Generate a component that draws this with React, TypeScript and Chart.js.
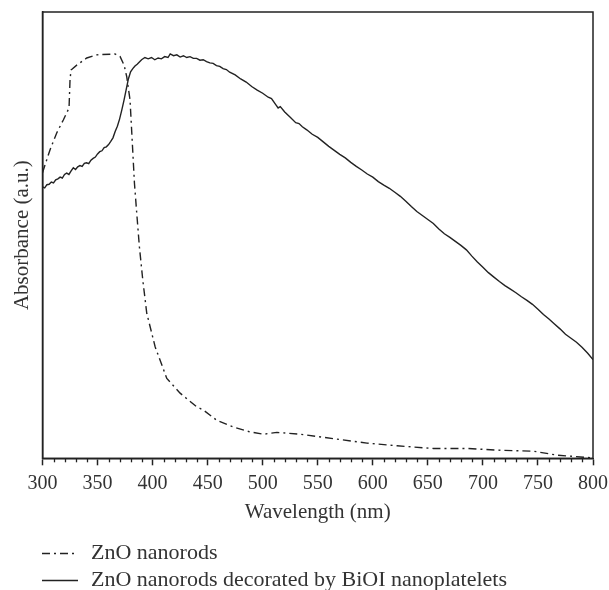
import React, { useEffect, useRef } from "react";
import { Chart, registerables } from "chart.js";

Chart.register(...registerables);

const FONT = "'Liberation Serif', 'Times New Roman', serif";
const TEXT = "#333333";
const INK = "#222222";

const xTitle = "Wavelength (nm)";
const yTitle = "Absorbance (a.u.)";
const seriesLabels = ["ZnO nanorods", "ZnO nanorods decorated by BiOI nanoplatelets"];
const xMin = 300;
const xMax = 800;
const xMajorStep = 50;
const xMinorStep = 10;

const znoWavelength = [
  300, 306.8, 312.9, 318.9, 324.1, 325, 325.9, 331.1, 340.2, 349.3, 365.9, 370.5, 374.1, 376.5,
  379.5, 381.1, 383.5, 385.6, 388, 391.1, 394.7, 402.3, 412.9, 425, 440.2, 446.2, 458.4, 473.5,
  488.6, 500.7, 512.9, 534.1, 564.4, 594.7, 622, 655, 685.6, 715.9, 745.9, 767.5, 800,
];
const znoAbsorbance = [
  64.0, 69.1, 72.9, 75.8, 78.5, 84.8, 87.0, 88.1, 89.7, 90.4, 90.6, 90.0, 88.1, 85.5,
  80.3, 72.9, 61.7, 54.9, 47.4, 39.9, 32.5, 25.0, 17.9, 14.6, 11.5, 10.8, 8.5, 7.0,
  5.9, 5.4, 5.8, 5.4, 4.4, 3.4, 2.8, 2.2, 2.2, 1.8, 1.6, 0.7, 0.1,
];

const bioiWavelength = [
  300, 302, 304, 306, 308, 310, 312, 314, 316, 318, 320, 322, 324, 326, 328, 330, 332, 334, 336, 338,
  340, 342, 344, 346, 348, 350, 352, 354, 356, 358, 360, 362, 364, 366, 368, 370, 372, 374, 376, 378,
  380, 382, 384, 386, 388, 390, 393, 396, 399, 402, 405, 408, 411, 414, 416, 419, 422, 425, 428, 431,
  434, 437, 440, 443, 446, 449, 452, 455, 458, 461, 464, 467, 470, 475, 480, 485, 490, 495, 500, 505,
  508, 512, 514, 516, 520, 525, 530, 533, 536, 540, 545, 550, 555, 560, 565, 570, 575, 580, 585, 590,
  595, 600, 605, 610, 615, 620, 625, 630, 635, 640, 645, 650, 655, 660, 665, 670, 675, 680, 685, 690,
  695, 700, 705, 710, 715, 720, 725, 730, 735, 740, 745, 750, 755, 760, 765, 770, 775, 780, 785, 790,
  795, 800,
];
const bioiAbsorbance = [
  60.8, 60.6, 61.3, 61.4, 61.9, 61.7, 62.4, 62.6, 63.0, 62.8, 63.6, 63.9, 63.6, 64.4, 65.1, 64.7, 65.3, 65.6, 65.4, 66.1,
  66.2, 66.0, 66.8, 67.2, 67.5, 68.2, 68.7, 68.9, 69.6, 69.8, 70.3, 71.0, 71.8, 73.2, 74.4, 76.0, 78.0, 80.2, 82.6, 85.0,
  86.6, 87.3, 87.9, 88.3, 88.8, 89.3, 89.8, 89.5, 89.8, 89.3, 89.7, 89.5, 90.0, 89.8, 90.6, 90.2, 90.4, 89.9, 90.2, 89.8,
  90.0, 89.6, 89.6, 89.2, 89.3, 88.9, 88.6, 88.5, 88.0, 87.8, 87.3, 87.1, 86.5, 85.9, 85.0, 84.3, 83.3, 82.5, 81.8, 80.9,
  80.6, 79.2, 78.5, 78.8, 77.6, 76.4, 75.2, 75.0, 74.3, 73.6, 72.6, 71.9, 70.9, 69.9, 69.0, 68.1, 67.3, 66.3, 65.4, 64.6,
  63.7, 63.0, 62.0, 61.2, 60.5, 59.6, 58.7, 57.6, 56.4, 55.3, 54.4, 53.5, 52.6, 51.4, 50.3, 49.5, 48.6, 47.7, 46.7, 45.3,
  44.0, 42.8, 41.6, 40.6, 39.6, 38.7, 37.9, 37.1, 36.2, 35.4, 34.5, 33.4, 32.2, 31.2, 30.1, 29.0, 27.8, 26.9, 26.0, 24.9,
  23.6, 22.1,
];

const zip = (xs: number[], ys: number[]) => xs.map((x, i) => ({ x, y: ys[i] }));

export default function App() {
  const ref = useRef<HTMLCanvasElement | null>(null);

  useEffect(() => {
    if (!ref.current) return;

    const framePlugin = {
      id: "frameAndLegend",
      afterDraw(chart: any) {
        const { ctx, chartArea: a, scales } = chart;
        ctx.save();
        ctx.strokeStyle = INK;
        ctx.lineWidth = 1.5;
        ctx.setLineDash([]);
        ctx.strokeRect(a.left, a.top, a.right - a.left, a.bottom - a.top);

        const xs = scales.x;
        ctx.lineWidth = 1.3;
        for (let v = xMin; v <= xMax; v += xMinorStep) {
          if (v % xMajorStep === 0) continue;
          const px = Math.round(xs.getPixelForValue(v)) + 0.5;
          ctx.beginPath();
          ctx.moveTo(px, a.bottom);
          ctx.lineTo(px, a.bottom + 4);
          ctx.stroke();
        }

        const rows = [553, 580];
        chart.data.datasets.forEach((ds: any, i: number) => {
          const y = rows[i];
          ctx.strokeStyle = ds.borderColor;
          ctx.lineWidth = 1.4;
          ctx.setLineDash(ds.borderDash || []);
          ctx.beginPath();
          ctx.moveTo(42, y + 0.5);
          ctx.lineTo(78, y + 0.5);
          ctx.stroke();
          ctx.setLineDash([]);
          ctx.fillStyle = TEXT;
          ctx.font = `22px ${FONT}`;
          ctx.textBaseline = "middle";
          ctx.textAlign = "left";
          ctx.fillText(ds.label, 91, y);
        });
        ctx.restore();
      },
    };

    const chart = new Chart(ref.current, {
      type: "line",
      data: {
        datasets: [
          {
            label: seriesLabels[0],
            data: zip(znoWavelength, znoAbsorbance),
            borderColor: INK,
            borderWidth: 1.4,
            borderDash: [8, 4, 2, 4],
            pointRadius: 0,
            tension: 0,
            fill: false,
          },
          {
            label: seriesLabels[1],
            data: zip(bioiWavelength, bioiAbsorbance),
            borderColor: INK,
            borderWidth: 1.4,
            pointRadius: 0,
            tension: 0,
            fill: false,
          },
        ],
      },
      options: {
        animation: false,
        responsive: false,
        maintainAspectRatio: false,
        layout: { padding: { top: 12, right: 16, bottom: 65, left: 0 } },
        plugins: {
          legend: { display: false },
          tooltip: { enabled: false },
        },
        scales: {
          x: {
            type: "linear",
            min: xMin,
            max: xMax,
            afterFit: (scale: any) => {
              scale.paddingLeft = 0;
              scale.paddingRight = 0;
            },
            ticks: {
              stepSize: xMajorStep,
              font: { family: FONT, size: 20, lineHeight: 1.0 },
              color: TEXT,
              padding: 8,
              maxRotation: 0,
              autoSkip: false,
            },
            grid: {
              drawOnChartArea: false,
              drawTicks: true,
              tickLength: 7,
              tickColor: INK,
              tickWidth: 1.5,
            },
            border: { display: true, color: INK, width: 1.5 },
            title: {
              display: true,
              text: xTitle,
              font: { family: FONT, size: 21 },
              color: TEXT,
              padding: { top: -1.5, bottom: 0 },
            },
          },
          y: {
            type: "linear",
            min: 0,
            max: 100,
            ticks: { display: false },
            grid: { display: false, drawTicks: false },
            border: { display: true, color: INK, width: 1.5 },
            title: {
              display: true,
              text: yTitle,
              font: { family: FONT, size: 21 },
              color: TEXT,
              padding: { top: 9.4, bottom: 7.9 },
            },
          },
        },
      },
      plugins: [framePlugin],
    });

    return () => chart.destroy();
  }, []);

  return (
    <div style={{ position: "fixed", left: 0, top: 0, width: 609, height: 590, background: "#fff" }}>
      <canvas ref={ref} width={609} height={590} style={{ display: "block" }} />
    </div>
  );
}
